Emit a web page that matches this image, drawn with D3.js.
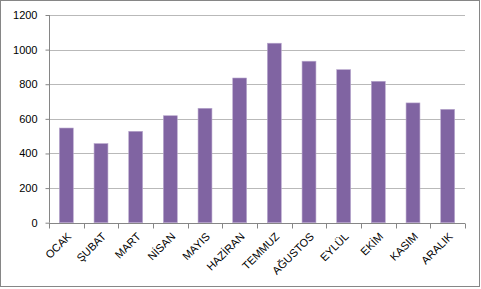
<!DOCTYPE html>
<meta charset="utf-8">
<script src="https://d3js.org/d3.v7.min.js"></script>
<style>
  body { margin: 0; background: #fff; }
  text { font-family: "Liberation Sans", Arial, sans-serif; }
</style>
<div id="chart"></div>
<script>
// data
var months = ["OCAK", "ŞUBAT", "MART", "NİSAN", "MAYIS", "HAZİRAN", "TEMMUZ", "AĞUSTOS", "EYLÜL", "EKİM", "KASIM", "ARALIK"];
var values = [547, 457, 528, 618, 661, 836, 1037, 933, 884, 817, 692, 655];
var yTicks = [0, 200, 400, 600, 800, 1000, 1200];

var W = 481, H = 289;
var margin = {top: 15, right: 16, bottom: 66.3, left: 49};

var svg = d3.select("#chart").append("svg")
    .attr("width", W)
    .attr("height", H);

// outer chart frame
svg.append("rect")
    .attr("x", 0.5).attr("y", 0.5)
    .attr("width", W - 2).attr("height", H - 3)
    .attr("fill", "#fff")
    .attr("stroke", "#868686");

var x = d3.scaleBand()
    .domain(months)
    .range([margin.left, W - margin.right])
    .paddingInner(0.6)
    .paddingOuter(0.3);

var y = d3.scaleLinear()
    .domain([0, 1200])
    .range([H - margin.bottom, margin.top]);

// gridlines
svg.append("g")
  .selectAll("line")
  .data(yTicks.slice(1))
  .enter().append("line")
    .attr("x1", margin.left)
    .attr("x2", W - margin.right)
    .attr("y1", function(d) { return Math.round(y(d)) + 0.5; })
    .attr("y2", function(d) { return Math.round(y(d)) + 0.5; })
    .attr("stroke", "#b9b9b9")
    .attr("stroke-width", 1);

// bars
svg.append("g")
  .selectAll("rect")
  .data(values)
  .enter().append("rect")
    .attr("x", function(d, i) { return x(months[i]); })
    .attr("y", function(d) { return y(d); })
    .attr("width", x.bandwidth())
    .attr("height", function(d) { return y(0) - y(d); })
    .attr("fill", "#8064a2")
    .attr("stroke", "#b7a6cc")
    .attr("stroke-width", 0.6);

// y axis
var yAxis = svg.append("g")
    .attr("transform", "translate(" + (margin.left + 0.5) + ",0)")
    .call(d3.axisLeft(y).tickValues(yTicks).tickSize(4).tickPadding(8).tickFormat(d3.format("d")));
yAxis.select(".domain").attr("stroke", "#868686").attr("d", "M0," + y(1200) + "V" + y(0));
yAxis.selectAll(".tick line").attr("stroke", "#868686");
yAxis.selectAll(".tick text").attr("fill", "#000").style("font-size", "11px")
    .style("font-family", "Liberation Sans, Arial, sans-serif");

// x axis line with tick marks at band boundaries
var y0 = Math.round(y(0)) + 0.5;
svg.append("line")
    .attr("x1", margin.left).attr("x2", W - margin.right)
    .attr("y1", y0).attr("y2", y0)
    .attr("stroke", "#868686");

var bounds = d3.range(months.length + 1).map(function(i) { return margin.left + i * (W - margin.left - margin.right) / months.length; });
svg.append("g")
  .selectAll("line")
  .data(bounds)
  .enter().append("line")
    .attr("x1", function(d) { return Math.round(d) + 0.5; })
    .attr("x2", function(d) { return Math.round(d) + 0.5; })
    .attr("y1", y0).attr("y2", y0 + 5)
    .attr("stroke", "#868686");

// rotated month labels
svg.append("g")
  .selectAll("text")
  .data(months)
  .enter().append("text")
    .attr("transform", function(d) {
      var cx = x(d) + x.bandwidth() / 2 + 3;
      return "translate(" + cx + "," + (y0 + 11) + ")rotate(-45)";
    })
    .attr("text-anchor", "end")
    .attr("dy", "0.35em")
    .style("font-size", "11px")
    .text(function(d) { return d; });
</script>
